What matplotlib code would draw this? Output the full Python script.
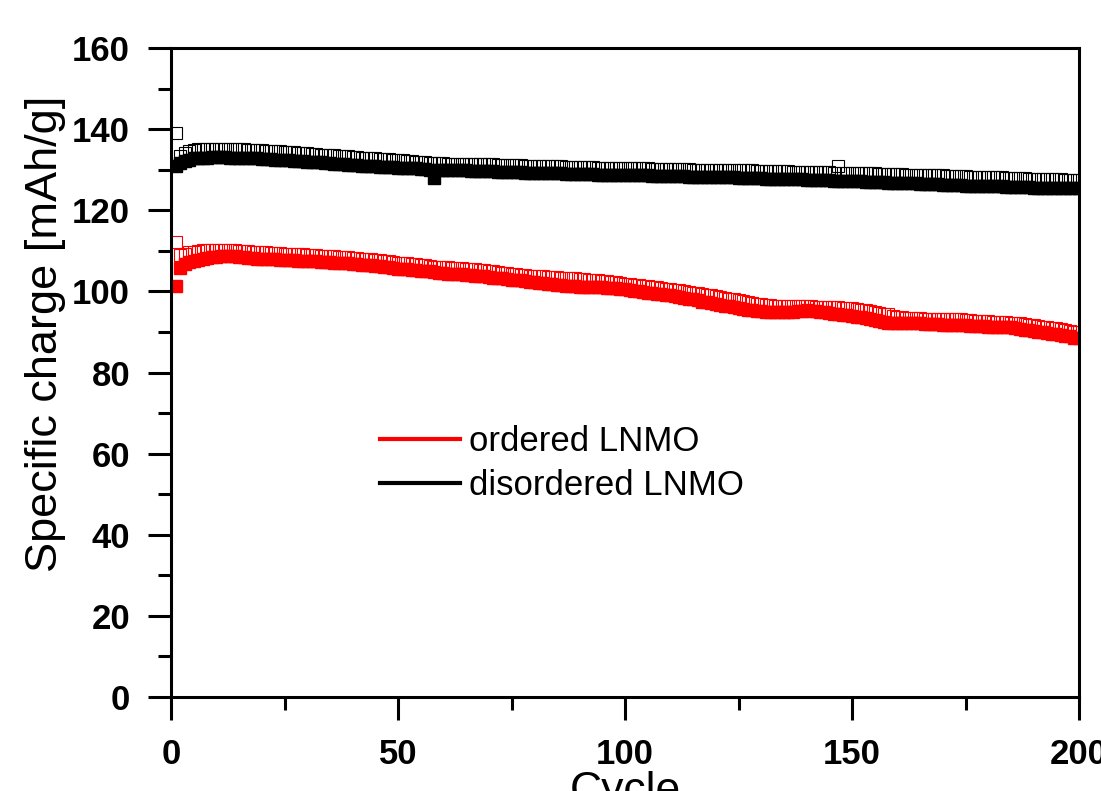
import numpy as np
import matplotlib
matplotlib.use("Agg")
import matplotlib.pyplot as plt
from matplotlib.lines import Line2D
from matplotlib.ticker import MultipleLocator

plt.rcParams['font.family'] = ['Liberation Sans', 'DejaVu Sans']

# cycle numbers 1..200
cycles = np.arange(1, 201)

# ordered LNMO - charge (open squares)
ordered_charge = [
    112.2, 109.0, 109.3, 109.6, 109.8, 110.0, 110.1, 110.2, 110.3, 110.3,
    110.3, 110.2, 110.2, 110.1, 110.0, 109.9, 109.9, 109.8, 109.7, 109.6,
    109.6, 109.5, 109.5, 109.4, 109.3, 109.3, 109.2, 109.1, 109.1, 109.0,
    108.9, 108.9, 108.8, 108.8, 108.7, 108.6, 108.5, 108.5, 108.4, 108.3,
    108.2, 108.1, 108.0, 107.9, 107.8, 107.7, 107.6, 107.4, 107.3, 107.1,
    107.0, 106.9, 106.8, 106.7, 106.5, 106.4, 106.3, 106.1, 106.0, 105.9,
    105.9, 105.8, 105.7, 105.7, 105.6, 105.5, 105.4, 105.3, 105.2, 105.0,
    104.9, 104.8, 104.6, 104.5, 104.4, 104.2, 104.1, 104.0, 103.9, 103.8,
    103.8, 103.7, 103.6, 103.6, 103.5, 103.4, 103.4, 103.3, 103.2, 103.1,
    103.0, 102.9, 102.8, 102.7, 102.6, 102.5, 102.3, 102.2, 102.1, 101.9,
    101.8, 101.6, 101.5, 101.4, 101.3, 101.2, 101.0, 100.9, 100.7, 100.6,
    100.4, 100.3, 100.1, 99.9, 99.7, 99.6, 99.4, 99.2, 99.0, 98.8,
    98.6, 98.4, 98.2, 98.0, 97.8, 97.6, 97.4, 97.2, 97.0, 96.9,
    96.7, 96.6, 96.5, 96.4, 96.3, 96.3, 96.3, 96.3, 96.3, 96.3,
    96.3, 96.2, 96.2, 96.2, 96.1, 96.1, 96.1, 96.0, 96.0, 95.9,
    95.7, 95.5, 95.3, 95.1, 94.9, 94.7, 94.5, 94.3, 94.0, 93.7,
    93.6, 93.5, 93.4, 93.4, 93.4, 93.3, 93.3, 93.3, 93.2, 93.2,
    93.2, 93.2, 93.1, 93.1, 93.0, 92.9, 92.8, 92.7, 92.7, 92.6,
    92.5, 92.5, 92.4, 92.4, 92.3, 92.2, 92.1, 91.9, 91.8, 91.6,
    91.5, 91.3, 91.2, 91.0, 90.9, 90.7, 90.5, 90.3, 90.1, 89.9,
]

# ordered LNMO - discharge (filled squares)
ordered_discharge = [
    101.3, 105.8, 106.8, 107.3, 107.6, 107.8, 108.0, 108.2, 108.4, 108.5,
    108.7, 108.8, 108.7, 108.6, 108.5, 108.4, 108.3, 108.2, 108.1, 108.0,
    108.0, 107.9, 107.9, 107.8, 107.8, 107.7, 107.7, 107.6, 107.5, 107.5,
    107.4, 107.4, 107.3, 107.3, 107.2, 107.1, 107.1, 107.0, 106.9, 106.8,
    106.7, 106.6, 106.5, 106.4, 106.3, 106.2, 106.0, 105.9, 105.8, 105.6,
    105.5, 105.4, 105.3, 105.2, 105.1, 105.0, 104.9, 104.7, 104.6, 104.5,
    104.4, 104.4, 104.3, 104.2, 104.1, 104.0, 103.9, 103.8, 103.7, 103.6,
    103.4, 103.3, 103.2, 103.1, 102.9, 102.8, 102.7, 102.5, 102.4, 102.2,
    102.1, 102.0, 101.9, 101.7, 101.6, 101.5, 101.4, 101.3, 101.3, 101.2,
    101.2, 101.1, 101.1, 101.0, 101.0, 100.9, 100.9, 100.8, 100.7, 100.6,
    100.4, 100.2, 100.0, 99.9, 99.7, 99.6, 99.4, 99.3, 99.1, 99.0,
    98.8, 98.6, 98.4, 98.2, 98.0, 97.8, 97.5, 97.3, 97.1, 96.9,
    96.7, 96.5, 96.3, 96.1, 95.9, 95.7, 95.5, 95.3, 95.2, 95.1,
    95.0, 94.9, 94.9, 94.8, 94.8, 94.9, 95.0, 95.1, 95.2, 95.3,
    95.2, 95.1, 94.9, 94.8, 94.6, 94.5, 94.3, 94.2, 94.1, 93.9,
    93.8, 93.6, 93.4, 93.2, 93.0, 92.8, 92.5, 92.3, 92.3, 92.3,
    92.2, 92.2, 92.2, 92.1, 92.1, 92.0, 92.0, 91.9, 91.9, 91.8,
    91.8, 91.7, 91.7, 91.6, 91.6, 91.5, 91.5, 91.4, 91.4, 91.3,
    91.3, 91.2, 91.2, 91.1, 91.1, 91.0, 90.8, 90.6, 90.4, 90.2,
    90.0, 89.9, 89.8, 89.6, 89.4, 89.3, 89.1, 88.9, 88.6, 88.4,
]

# disordered LNMO - charge (open squares)
disordered_charge = [
    139.0, 133.3, 134.1, 134.6, 134.9, 135.1, 135.2, 135.2, 135.2, 135.2,
    135.2, 135.1, 135.1, 135.1, 135.0, 135.0, 134.9, 134.9, 134.8, 134.8,
    134.7, 134.6, 134.6, 134.5, 134.4, 134.3, 134.3, 134.2, 134.1, 134.0,
    133.9, 133.8, 133.7, 133.7, 133.6, 133.5, 133.4, 133.3, 133.3, 133.2,
    133.1, 133.0, 133.0, 132.9, 132.8, 132.7, 132.7, 132.6, 132.5, 132.4,
    132.3, 132.2, 132.1, 132.0, 131.9, 131.8, 131.7, 131.6, 131.6, 131.6,
    131.5, 131.5, 131.5, 131.4, 131.4, 131.4, 131.4, 131.3, 131.3, 131.3,
    131.3, 131.2, 131.2, 131.2, 131.2, 131.1, 131.1, 131.0, 131.0, 131.0,
    130.9, 130.9, 130.9, 130.8, 130.8, 130.8, 130.7, 130.7, 130.7, 130.6,
    130.6, 130.6, 130.6, 130.5, 130.5, 130.5, 130.5, 130.4, 130.4, 130.4,
    130.4, 130.3, 130.3, 130.3, 130.3, 130.2, 130.2, 130.2, 130.2, 130.1,
    130.1, 130.1, 130.1, 130.1, 130.0, 130.0, 130.0, 130.0, 130.0, 129.9,
    129.9, 129.9, 129.9, 129.9, 129.8, 129.8, 129.8, 129.8, 129.7, 129.7,
    129.7, 129.7, 129.6, 129.6, 129.6, 129.6, 129.5, 129.5, 129.5, 129.5,
    129.4, 129.4, 129.4, 129.4, 129.4, 129.3, 130.8, 129.3, 129.3, 129.2,
    129.2, 129.2, 129.1, 129.1, 129.1, 129.0, 129.0, 129.0, 128.9, 128.9,
    128.9, 128.8, 128.8, 128.8, 128.7, 128.7, 128.7, 128.6, 128.6, 128.6,
    128.5, 128.5, 128.5, 128.4, 128.4, 128.3, 128.3, 128.3, 128.2, 128.2,
    128.1, 128.1, 128.1, 128.0, 128.0, 127.9, 127.9, 127.9, 127.8, 127.8,
    127.8, 127.7, 127.7, 127.6, 127.6, 127.6, 127.5, 127.5, 127.4, 127.4,
]

# disordered LNMO - discharge (filled squares)
disordered_discharge = [
    130.9, 131.6, 132.2, 132.5, 132.8, 132.9, 133.0, 133.0, 133.1, 133.1,
    133.1, 133.1, 133.0, 133.0, 133.0, 132.9, 132.9, 132.8, 132.8, 132.7,
    132.6, 132.6, 132.5, 132.4, 132.4, 132.3, 132.2, 132.2, 132.1, 132.0,
    131.9, 131.8, 131.8, 131.7, 131.6, 131.5, 131.4, 131.3, 131.2, 131.1,
    131.1, 131.0, 130.9, 130.9, 130.8, 130.7, 130.7, 130.6, 130.6, 130.5,
    130.5, 130.4, 130.3, 130.3, 130.2, 130.1, 130.0, 127.9, 130.0, 129.9,
    129.9, 129.9, 129.8, 129.8, 129.8, 129.7, 129.7, 129.7, 129.6, 129.6,
    129.6, 129.5, 129.5, 129.5, 129.4, 129.4, 129.4, 129.3, 129.3, 129.3,
    129.2, 129.2, 129.2, 129.1, 129.1, 129.1, 129.0, 129.0, 129.0, 128.9,
    128.9, 128.9, 128.9, 128.8, 128.8, 128.8, 128.8, 128.7, 128.7, 128.7,
    128.7, 128.6, 128.6, 128.6, 128.6, 128.5, 128.5, 128.5, 128.5, 128.4,
    128.4, 128.4, 128.4, 128.3, 128.3, 128.3, 128.3, 128.2, 128.2, 128.2,
    128.2, 128.1, 128.1, 128.1, 128.0, 128.0, 128.0, 127.9, 127.9, 127.9,
    127.8, 127.8, 127.8, 127.7, 127.7, 127.7, 127.6, 127.6, 127.6, 127.5,
    127.5, 127.5, 127.4, 127.4, 127.4, 127.3, 127.3, 127.3, 127.2, 127.2,
    127.1, 127.1, 127.0, 127.0, 126.9, 126.9, 126.9, 126.8, 126.8, 126.7,
    126.7, 126.7, 126.6, 126.6, 126.5, 126.5, 126.5, 126.4, 126.4, 126.3,
    126.3, 126.3, 126.2, 126.2, 126.1, 126.1, 126.1, 126.0, 126.0, 126.0,
    125.9, 125.9, 125.9, 125.8, 125.8, 125.8, 125.7, 125.7, 125.7, 125.6,
    125.6, 125.6, 125.6, 125.5, 125.5, 125.5, 125.5, 125.4, 125.4, 125.4,
]

fig = plt.figure(figsize=(11.01, 7.91), dpi=100)
ax = fig.add_axes([171 / 1101, 1 - 697 / 791, 908 / 1101, 649 / 791])

ms = 8.5
ax.plot(cycles, disordered_discharge, ls='none', marker='s', ms=ms, color='black', mec='black')
ax.plot(cycles, disordered_charge, ls='none', marker='s', ms=ms, mfc='none', mec='black', mew=0.8)
ax.plot(cycles, ordered_discharge, ls='none', marker='s', ms=ms, color='red', mec='red')
ax.plot(cycles, ordered_charge, ls='none', marker='s', ms=ms, mfc='none', mec='red', mew=0.8)

ax.set_xlim(0, 200)
ax.set_ylim(0, 160)
ax.xaxis.set_major_locator(MultipleLocator(50))
ax.xaxis.set_minor_locator(MultipleLocator(25))
ax.yaxis.set_major_locator(MultipleLocator(20))
ax.yaxis.set_minor_locator(MultipleLocator(10))

for s in ax.spines.values():
    s.set_linewidth(2.2)
ax.tick_params(which='major', direction='out', length=16.5, width=2.2, pad=13,
               labelsize=25)
ax.tick_params(which='minor', direction='out', length=9.5, width=2.2)
for lab in ax.get_xticklabels() + ax.get_yticklabels():
    lab.set_fontweight('bold')

ax.set_ylabel('Specific charge [mAh/g]', fontsize=32.5)
ax.yaxis.set_label_coords(-0.116, 0.56)
ax.set_xlabel('Cycle', fontsize=32, labelpad=0)

handles = [Line2D([], [], color='red', lw=3), Line2D([], [], color='black', lw=3)]
ax.legend(handles, ['ordered LNMO', 'disordered LNMO'], loc='center left',
          bbox_to_anchor=(0.196, 0.36), frameon=False, fontsize=25,
          handlelength=2.3, handletextpad=0.25, labelspacing=0.32)

fig.savefig('out.png', dpi=100)
